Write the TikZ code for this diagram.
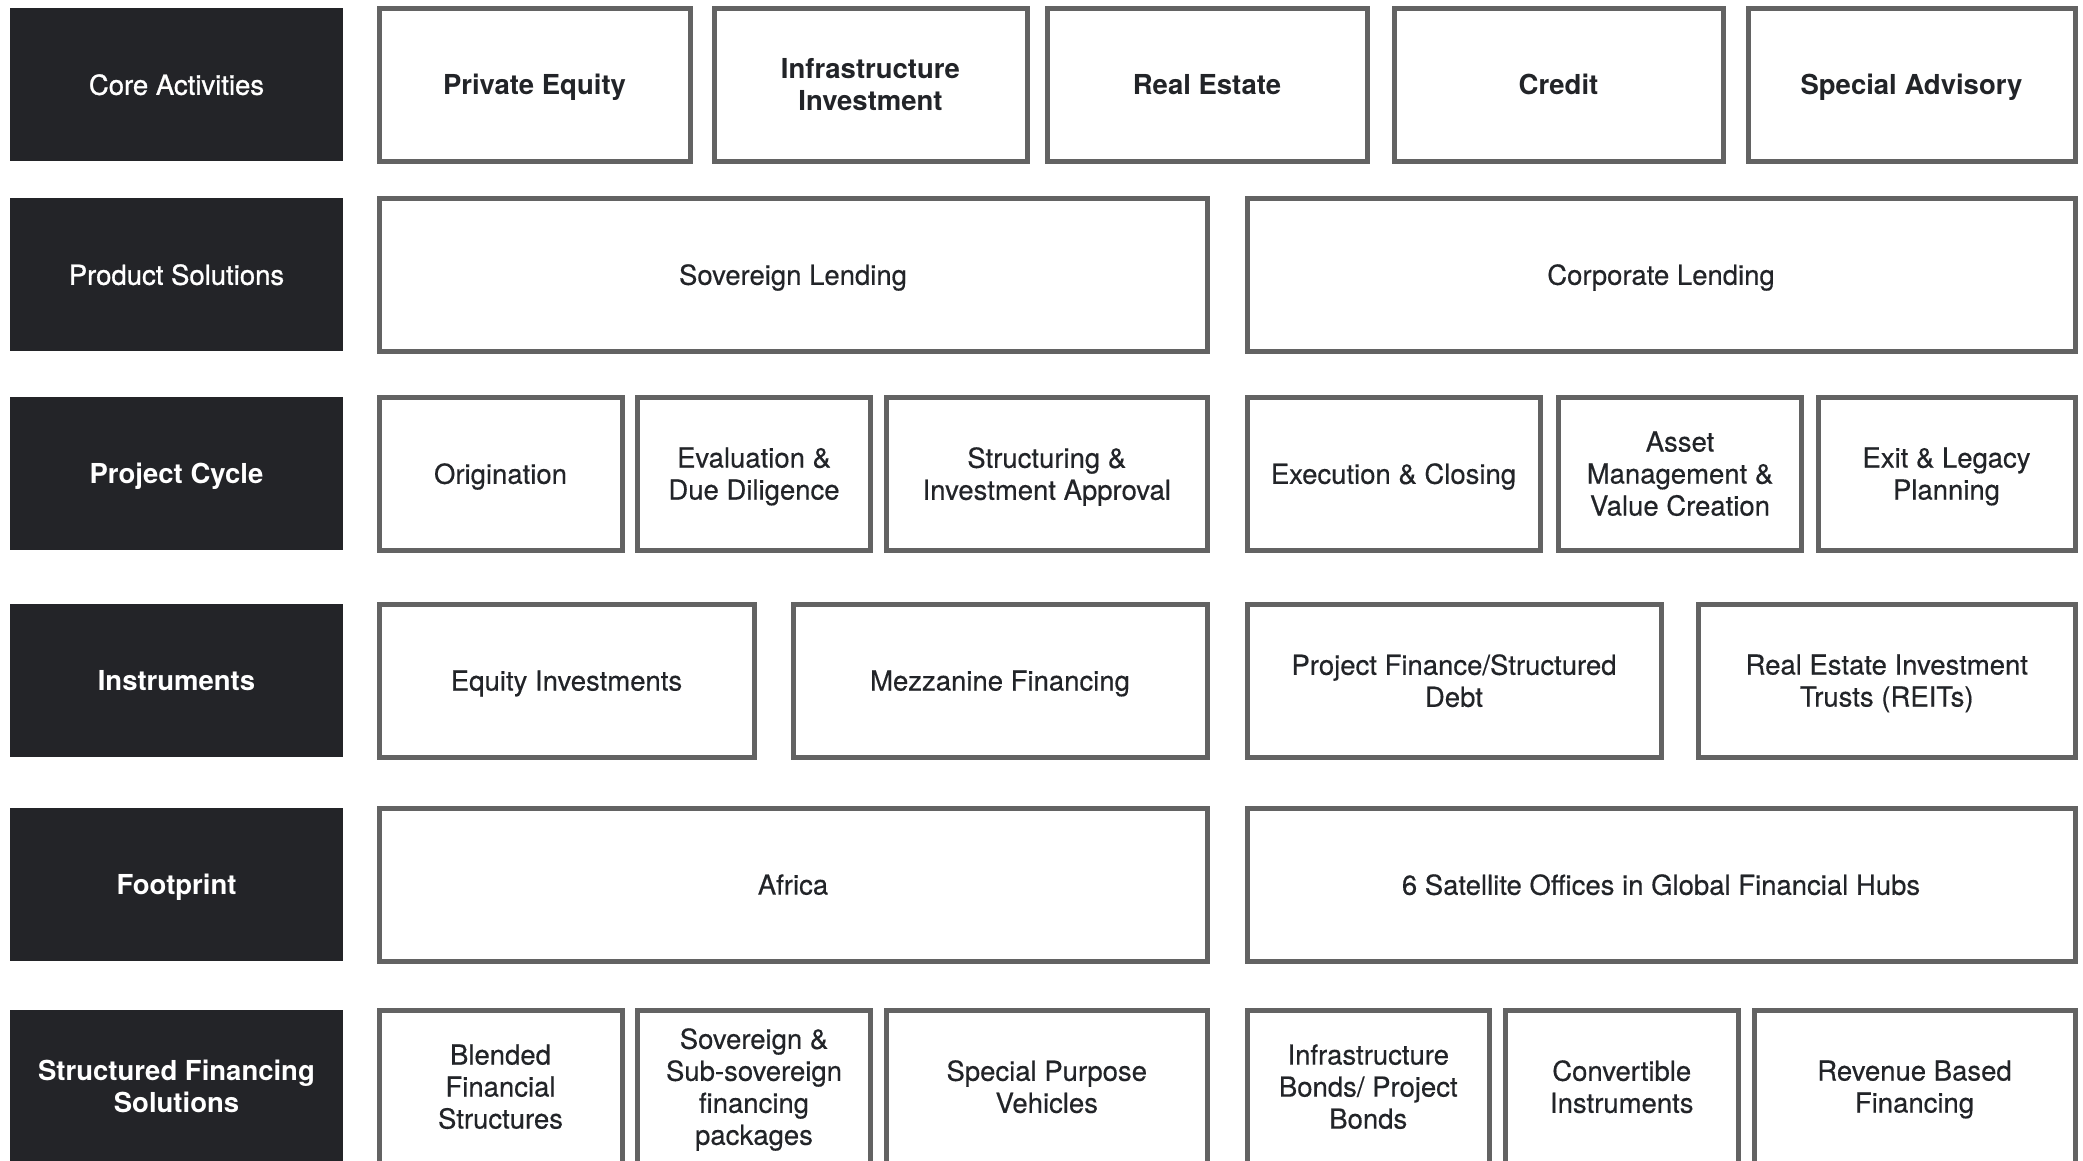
\documentclass[tikz,border=0pt]{standalone}
\usepackage{fontspec}
\setmainfont{TeX Gyre Heros}
\newfontfamily\regfont[FakeBold=0.4]{TeX Gyre Heros}
\newfontfamily\medfont[FakeBold=1.0]{TeX Gyre Heros}
\definecolor{darkbg}{HTML}{232428}
\definecolor{edgegrey}{HTML}{636363}
\definecolor{ink}{HTML}{222428}
\newcommand\mkcell[7]{\node[#6, minimum width={#3-#2}, minimum height={#5-#4}] (#1) at ({(#2+#3)/2},{(#4+#5)/2}) {#7};}
\begin{document}
\begin{tikzpicture}[x=1pt,y=-1pt,
  txt/.style={align=center, font=\regfont\fontsize{27.5}{32}\selectfont, inner sep=0pt, text depth=0pt},
  cell/.style={txt, draw=edgegrey, line width=5pt, fill=white, text=ink},
  boldcell/.style={cell, font=\normalfont\fontsize{27.5}{32}\selectfont\bfseries},
  head/.style={txt, fill=darkbg, text=white, font=\medfont\fontsize{27.5}{32}\selectfont},
  boldhead/.style={head, font=\normalfont\fontsize{27.5}{32}\selectfont\bfseries},
]
\useasboundingbox (0,0) rectangle (2083,1160);
\clip (0,0) rectangle (2083,1160);
\fill[white] (0,0) rectangle (2083,1160);
% Row 1
\mkcell{h1}{10}{343}{8}{161}{head}{Core Activities}
\mkcell{pe}{379}{690}{8}{161}{boldcell}{Private Equity}
\mkcell{ii}{714}{1027}{8}{161}{boldcell}{Infrastructure\\Investment}
\mkcell{re}{1047}{1367}{8}{161}{boldcell}{Real Estate}
\mkcell{cr}{1394}{1723}{8}{161}{boldcell}{Credit}
\mkcell{sa}{1748}{2075}{8}{161}{boldcell}{Special Advisory}
% Row 2
\mkcell{h2}{10}{343}{198}{351}{head}{Product Solutions}
\mkcell{sl}{379}{1207}{198}{351}{cell}{Sovereign Lending}
\mkcell{cl}{1247}{2075}{198}{351}{cell}{Corporate Lending}
% Row 3
\mkcell{h3}{10}{343}{397}{550}{boldhead}{Project Cycle}
\mkcell{or}{379}{622}{397}{550}{cell}{Origination}
\mkcell{ev}{637.5}{870.5}{397}{550}{cell}{Evaluation \&\\Due Diligence}
\mkcell{st}{886.5}{1207}{397}{550}{cell}{Structuring \&\\Investment Approval}
\mkcell{ex}{1247}{1540}{397}{550}{cell}{Execution \& Closing}
\mkcell{am}{1558.5}{1801.5}{397}{550}{cell}{Asset\\Management \&\\Value Creation}
\mkcell{el}{1818}{2075}{397}{550}{cell}{Exit \& Legacy\\Planning}
% Row 4
\mkcell{h4}{10}{343}{604}{757}{boldhead}{Instruments}
\mkcell{ei}{379}{754}{604}{757}{cell}{Equity Investments}
\mkcell{mf}{793}{1207}{604}{757}{cell}{Mezzanine Financing}
\mkcell{pf}{1247}{1661}{604}{757}{cell}{Project Finance/Structured\\Debt}
\mkcell{rt}{1698.5}{2075}{604}{757}{cell}{Real Estate Investment\\Trusts (REITs)}
% Row 5
\mkcell{h5}{10}{343}{808}{961}{boldhead}{Footprint}
\mkcell{af}{379}{1207}{808}{961}{cell}{Africa}
\mkcell{so}{1247}{2075}{808}{961}{cell}{6 Satellite Offices in Global Financial Hubs}
% Row 6
\mkcell{h6}{10}{343}{1010}{1163}{boldhead}{Structured Financing\\Solutions}
\mkcell{bf}{379}{622}{1010}{1163}{cell}{Blended\\Financial\\Structures}
\mkcell{ss}{637.5}{870.5}{1010}{1163}{cell}{Sovereign \&\\Sub-sovereign\\financing\\packages}
\mkcell{sp}{886.5}{1207}{1010}{1163}{cell}{Special Purpose\\Vehicles}
\mkcell{ib}{1247}{1489.5}{1010}{1163}{cell}{Infrastructure\\Bonds/ Project\\Bonds}
\mkcell{ci}{1505}{1738.5}{1010}{1163}{cell}{Convertible\\Instruments}
\mkcell{rb}{1754}{2075}{1010}{1163}{cell}{Revenue Based\\Financing}
\end{tikzpicture}
\end{document}
